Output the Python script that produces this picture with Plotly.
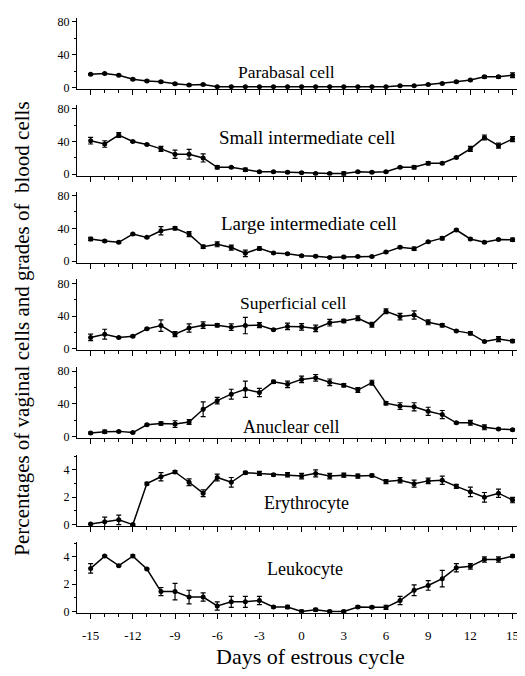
import plotly.graph_objects as go

days = list(range(-15, 16))
x_tick_vals = [-15, -12, -9, -6, -3, 0, 3, 6, 9, 12, 15]
x_tick_text = ["-15", "-12", "-9", "-6", "-3", "0", "3", "6", "9", "12", "15"]

parabasal = [16, 17, 15, 10, 8, 7, 4.5, 3, 3.5, 1, 1, 1, 1, 1, 1, 1, 1, 1, 1, 1, 1, 1, 2, 2, 3.5, 5, 7, 9, 13, 13, 15]
parabasal_err = [1, 1, 1, 1, 1, 1, 1, 1, 1, 0.5, 0.5, 0.5, 0.5, 0.5, 0.5, 0.5, 0.5, 0.5, 0.5, 0.5, 0.5, 0.5, 0.5, 0.5, 1, 1, 1, 1, 1.5, 1.5, 3]

small_int = [41, 37, 48, 40, 36.5, 31, 24.5, 24.5, 20, 8.5, 8.5, 5.5, 3, 3, 2.5, 2, 1, 1, 1, 3, 2.5, 3, 8.5, 8.5, 13.5, 13.5, 20.5, 31, 45, 35, 43]
small_int_err = [4, 4, 3, 1, 1, 3, 5, 6, 5, 2, 1, 2, 1, 1, 1, 1, 1, 1, 2, 1, 1, 1, 1, 2, 2, 1, 1, 3, 3, 3, 3]

large_int = [27, 24.5, 23, 33, 29, 37, 40, 33, 17.5, 20.5, 16.5, 9.5, 15.5, 10, 9, 6.5, 6, 4.5, 5, 5.5, 5.5, 11, 17, 15, 23.5, 28, 38, 27, 23, 26.5, 26]
large_int_err = [2, 1, 1, 1, 1, 5, 2, 3, 2, 3, 3, 4, 2, 1, 1, 1, 1, 1, 1, 1, 1, 1, 1, 2, 1, 2, 1, 1, 1, 1, 2]

superficial = [14, 18, 14, 15.5, 24.5, 28.5, 18, 25.5, 29, 29, 26.5, 28.5, 29, 23.5, 27.5, 27, 25, 32, 34, 37.5, 29.5, 46, 39.5, 41.5, 32.5, 29, 22, 19, 9, 12, 9.5]
superficial_err = [4, 6, 1, 1, 1, 7, 3, 5, 4, 2, 4, 10, 3, 1, 4, 4, 4, 4, 2, 3, 3, 3, 4, 5, 3, 2, 1, 2, 1, 3, 2]

anuclear = [4.5, 6, 6.5, 5, 14.5, 16, 15.5, 18, 33.5, 44, 52, 58, 54, 67, 64, 70, 72, 66.5, 63, 57, 66, 41, 37.5, 36.5, 31, 27, 17, 17, 11.5, 9.5, 8.5]
anuclear_err = [1, 2, 1, 1, 1, 2, 4, 3, 9, 4, 6, 10, 5, 2, 4, 4, 4, 4, 2, 3, 3, 2, 4, 5, 5, 5, 1, 3, 3, 1, 1]

erythrocyte = [0.05, 0.2, 0.35, 0.0, 3.0, 3.5, 3.85, 3.1, 2.3, 3.45, 3.1, 3.8, 3.75, 3.65, 3.65, 3.55, 3.75, 3.55, 3.62, 3.55, 3.6, 3.15, 3.25, 3.0, 3.2, 3.25, 2.8, 2.4, 2.0, 2.3, 1.8]
erythrocyte_err = [0.05, 0.35, 0.35, 0.05, 0.1, 0.3, 0.1, 0.25, 0.25, 0.25, 0.35, 0.1, 0.15, 0.08, 0.15, 0.2, 0.25, 0.2, 0.15, 0.15, 0.1, 0.15, 0.2, 0.25, 0.2, 0.3, 0.15, 0.35, 0.35, 0.3, 0.2]

leukocyte = [3.15, 4.05, 3.35, 4.05, 3.1, 1.45, 1.45, 1.05, 1.05, 0.4, 0.7, 0.7, 0.8, 0.33, 0.33, 0.0, 0.12, 0.0, 0.0, 0.33, 0.3, 0.3, 0.8, 1.55, 1.9, 2.4, 3.2, 3.3, 3.8, 3.8, 4.05]
leukocyte_err = [0.35, 0.05, 0.05, 0.1, 0.05, 0.3, 0.6, 0.5, 0.3, 0.3, 0.4, 0.4, 0.3, 0.08, 0.12, 0.1, 0.1, 0.08, 0.08, 0.08, 0.08, 0.15, 0.3, 0.4, 0.35, 0.6, 0.3, 0.2, 0.2, 0.2, 0.1]

panel_names = ["Parabasal cell", "Small intermediate cell", "Large intermediate cell",
               "Superficial cell", "Anuclear cell", "Erythrocyte", "Leukocyte"]
panel_values = [parabasal, small_int, large_int, superficial, anuclear, erythrocyte, leukocyte]
panel_errors = [parabasal_err, small_int_err, large_int_err, superficial_err, anuclear_err,
                erythrocyte_err, leukocyte_err]
panel_is_grade = [False, False, False, False, False, True, True]

x_title = "Days of estrous cycle"
y_title = "Percentages of vaginal cells and grades of  blood cells"

# page body has an 8px margin; positions below are reference px minus 8
OFF = 8
W, H = 525 - OFF, 676 - OFF
bottoms = [87, 175, 263, 352, 441, 530, 618]
panel_h = 72
label_pos = [(286, 70), (307, 136), (309, 223), (293, 304), (291, 430), (306, 507), (305, 574)]
label_size = [17.5, 19, 19, 17.5, 18, 18, 18]
FONT = "Liberation Serif, Times New Roman, serif"

fig = go.Figure()
layout = dict(
    width=W, height=H,
    margin=dict(l=0, r=0, t=0, b=0),
    paper_bgcolor="white", plot_bgcolor="white",
    showlegend=False,
    font=dict(family=FONT, color="black", size=12),
)
annotations = []
x_dom = [(77 - OFF) / W, (521 - OFF) / W]

for i in range(7):
    sfx = "" if i == 0 else str(i + 1)
    fig.add_trace(go.Scatter(
        x=days, y=panel_values[i],
        error_y=dict(type="data", array=panel_errors[i], color="black", thickness=1.2, width=2.5),
        mode="lines+markers",
        line=dict(color="black", width=1.5),
        marker=dict(color="black", size=5),
        xaxis="x" + sfx, yaxis="y" + sfx,
    ))
    b = bottoms[i] - OFF
    layout["xaxis" + sfx] = dict(
        domain=x_dom, range=[-15.97, 15.6], anchor="y" + sfx,
        showline=True, linecolor="black", linewidth=1.2,
        showgrid=False, zeroline=False,
        ticks="outside", tickmode="array", tickvals=x_tick_vals, ticktext=x_tick_text,
        ticklen=5, tickwidth=1.2, tickcolor="black",
        minor=dict(ticks="outside", tickmode="linear", dtick=1, tick0=-15, ticklen=3,
                   tickwidth=1, tickcolor="black"),
        showticklabels=(i == 6),
        ticklabelstandoff=6,
        tickfont=dict(family=FONT, size=13),
    )
    if panel_is_grade[i]:
        yr, d, md = [-0.1, 5.1], 2, 1
    else:
        yr, d, md = [-1.8, 85], 40, 20
    layout["yaxis" + sfx] = dict(
        domain=[1 - b / H, 1 - (b - panel_h) / H], range=yr, anchor="x" + sfx,
        showline=True, linecolor="black", linewidth=1.2,
        showgrid=False, zeroline=False,
        ticks="outside", tickmode="linear", tick0=0, dtick=d,
        ticklen=4, tickwidth=1, tickcolor="black",
        minor=dict(ticks="outside", dtick=md, tick0=0, ticklen=2, tickwidth=1, tickcolor="black"),
        tickfont=dict(family=FONT, size=12),
    )
    lx, ly = label_pos[i]
    annotations.append(dict(
        text=panel_names[i], x=(lx - OFF) / W, y=1 - (ly - OFF) / H, xref="paper", yref="paper",
        showarrow=False, xanchor="center", yanchor="middle",
        font=dict(family=FONT, size=label_size[i], color="black"),
    ))

annotations.append(dict(
    text=x_title, x=(310 - OFF) / W, y=1 - (662 - OFF) / H, xref="paper", yref="paper",
    showarrow=False, xanchor="center", yanchor="middle",
    font=dict(family=FONT, size=22, color="black"),
))
annotations.append(dict(
    text=y_title, x=(22 - OFF) / W, y=1 - (330 - OFF) / H, xref="paper", yref="paper",
    showarrow=False, xanchor="center", yanchor="middle", textangle=-90,
    font=dict(family=FONT, size=21, color="black"),
))
layout["annotations"] = annotations
fig.update_layout(**layout)
fig.write_html("out.html")
